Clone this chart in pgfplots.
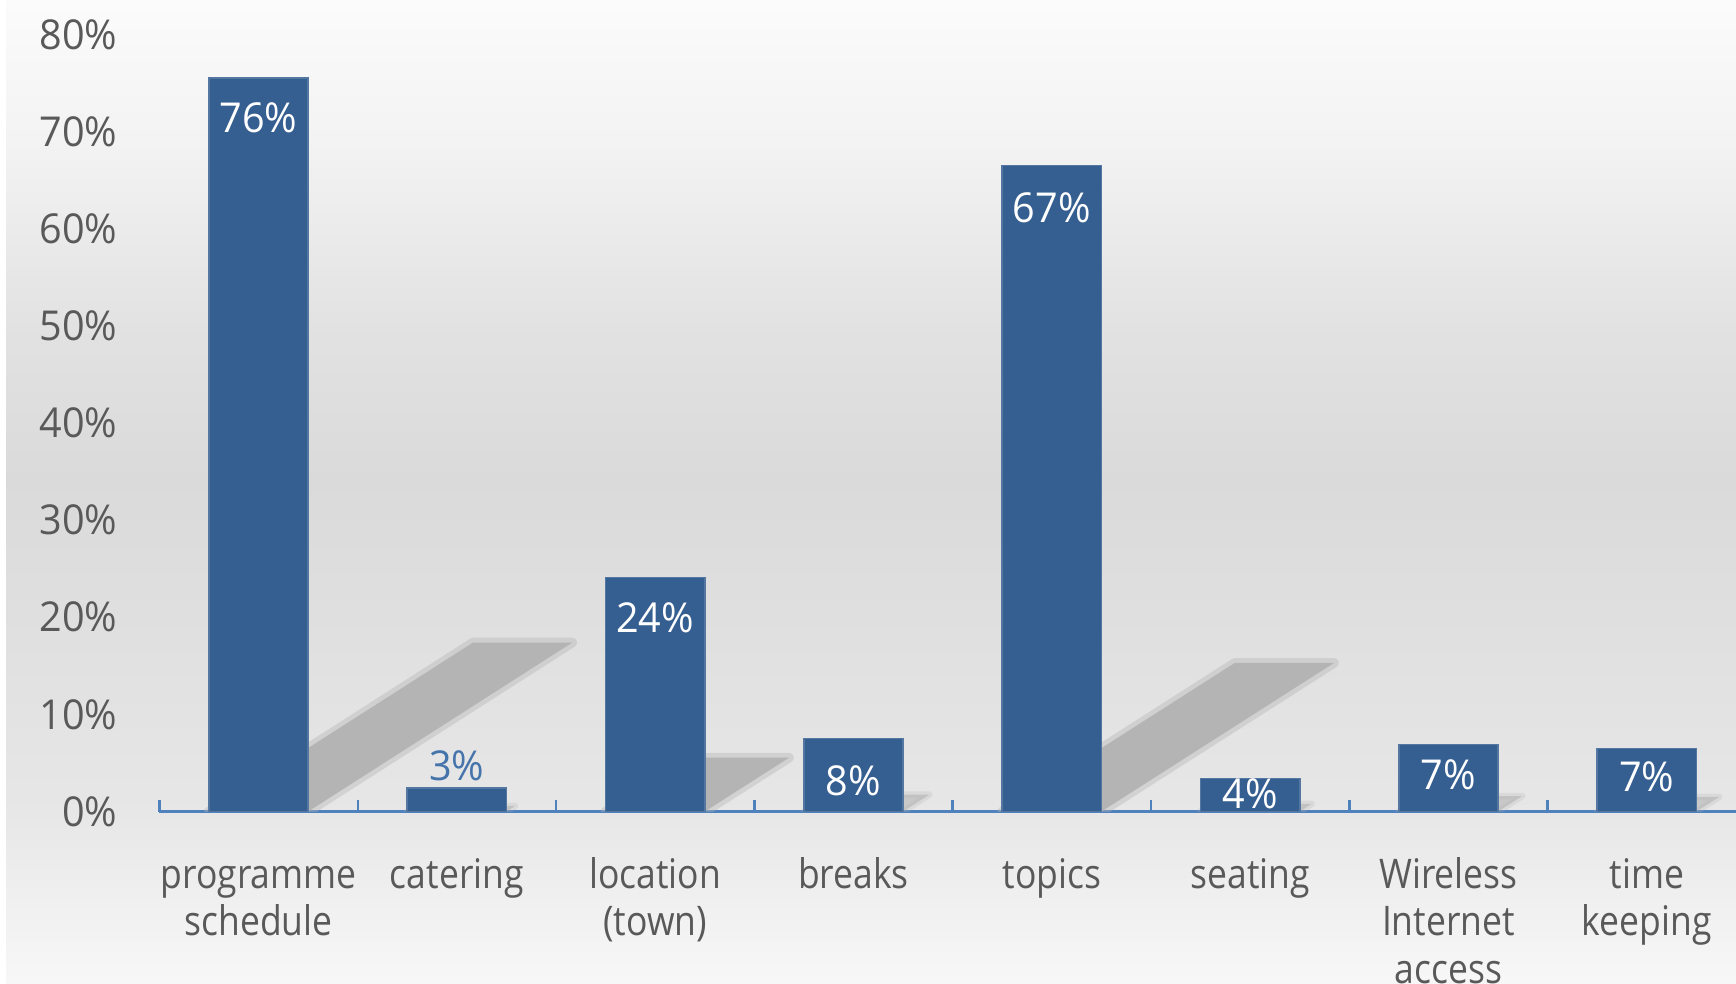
\documentclass[border=0pt]{standalone}
\usepackage{pgfplots}
\pgfplotsset{compat=1.18}
\usepackage{fontspec}
\setmainfont{Open Sans}
\newfontfamily\catfamily[FakeStretch=0.87]{Open Sans}
\newfontfamily\numfamily[FakeStretch=0.96]{Open Sans}

\definecolor{barblue}{HTML}{365F91}
\definecolor{axisblue}{HTML}{4F81BD}
\definecolor{labelgray}{HTML}{595959}
\definecolor{shadowgray}{HTML}{B4B4B4}
\newcommand{\numfont}{\numfamily\fontsize{10.3bp}{11.9bp}\selectfont}
\newcommand{\catfont}{\catfamily\fontsize{10.2bp}{11.9bp}\selectfont}
\newcommand{\fl}{\rule{0pt}{8bp}}

\begin{document}
\begin{tikzpicture}
% background, in pixel units of the reference, axis origin at (0,0)
\begin{scope}[x=0.25bp,y=0.25bp]
  \shade[bottom color=white!97!black, top color=white!94!black] (-153.4,-172.5) rectangle (1576.6,-88.5);
  \shade[bottom color=white!94!black, top color=white!90.5!black] (-153.4,-88.6) rectangle (1576.6,0.5);
  \shade[bottom color=white!90.5!black, top color=white!88!black] (-153.4,0.4) rectangle (1576.6,161.5);
  \shade[bottom color=white!88!black, top color=white!85.5!black] (-153.4,161.4) rectangle (1576.6,331.5);
  \shade[bottom color=white!85.5!black, top color=white!88.5!black] (-153.4,331.4) rectangle (1576.6,481.5);
  \shade[bottom color=white!88.5!black, top color=white!95!black] (-153.4,481.4) rectangle (1576.6,661.5);
  \shade[bottom color=white!95!black, top color=white!98.5!black] (-153.4,661.4) rectangle (1576.6,811.5);
\end{scope}

\begin{axis}[
    at={(0,0)}, anchor=south west,
    scale only axis,
    width=394.15bp, height=194.25bp,
    xmin=-0.5, xmax=7.45,
    ymin=0, ymax=80,
    axis x line*=bottom,
    axis y line*=left,
    x axis line style={-, draw=axisblue, line width=0.6bp},
    y axis line style={draw=none},
    xtick={0,...,7},
    xticklabels={\fl programme\\schedule, \fl catering, \fl location\\(town), \fl breaks, \fl topics, \fl seating, \fl Wireless\\Internet\\access, \fl time\\keeping},
    minor xtick={-0.5,0.5,...,6.5},
    tick align=inside,
    major tick length=0pt,
    minor tick length=2.9bp,
    minor x tick style={draw=axisblue, line width=0.6bp},
    major x tick style={draw=none},
    ytick={0,10,...,80},
    yticklabels={0\%,10\%,20\%,30\%,40\%,50\%,60\%,70\%,80\%},
    ytick style={draw=none},
    yticklabel style={font=\numfont, text=labelgray, anchor=east, inner sep=0pt, xshift=-10.3bp},
    xticklabel style={font=\catfont, text=labelgray, align=center, anchor=north, inner sep=0pt, yshift=-11bp},
    shadow/.style={fill=shadowgray, draw=shadowgray, draw opacity=0.4, line width=2.4bp, line join=round, forget plot},
    small shadow/.style={fill=shadowgray, fill opacity=0.6, draw=shadowgray, draw opacity=0.25, line width=1.6bp, line join=round, forget plot},
  ]
  % diagonal shadows behind the bars
  \addplot[shadow] coordinates {(-0.25,0) (0.25,0) (1.582,17.4) (1.082,17.4)} -- cycle;
  \addplot[small shadow] coordinates {(0.75,0) (1.25,0) (1.294,0.58) (0.794,0.58)} -- cycle;
  \addplot[shadow] coordinates {(1.75,0) (2.25,0) (2.675,5.54) (2.175,5.54)} -- cycle;
  \addplot[small shadow] coordinates {(2.75,0) (3.25,0) (3.382,1.73) (2.882,1.73)} -- cycle;
  \addplot[shadow] coordinates {(3.75,0) (4.25,0) (5.423,15.3) (4.923,15.3)} -- cycle;
  \addplot[small shadow] coordinates {(4.75,0) (5.25,0) (5.31,0.78) (4.81,0.78)} -- cycle;
  \addplot[small shadow] coordinates {(5.75,0) (6.25,0) (6.372,1.59) (5.872,1.59)} -- cycle;
  \addplot[small shadow] coordinates {(6.75,0) (7.25,0) (7.365,1.5) (6.865,1.5)} -- cycle;

  % bars
  \addplot[ybar, bar width=0.5, fill=barblue, draw=barblue!85!white, line width=0.4bp]
    coordinates {(0,75.5) (1,2.4) (2,24.1) (3,7.5) (4,66.5) (5,3.4) (6,6.9) (7,6.5)};

  % data labels
  \addplot[draw=none, mark=none, nodes near coords, point meta=explicit symbolic,
    every node near coord/.append style={anchor=center, text=white, font=\numfont}]
    coordinates {(0,71.45)[76\%] (2,19.94)[24\%] (3,3.19)[8\%] (4,62.2)[67\%] (5,1.82)[4\%] (6,3.76)[7\%] (7,3.53)[7\%]};
  \addplot[draw=none, mark=none, nodes near coords, point meta=explicit symbolic,
    every node near coord/.append style={anchor=center, text=axisblue!60!barblue, font=\numfont}]
    coordinates {(1,4.67)[3\%]};
\end{axis}

\pgfresetboundingbox
\path[use as bounding box] (-39.85bp,-43.125bp) rectangle (394.15bp,202.875bp);
\end{tikzpicture}
\end{document}
